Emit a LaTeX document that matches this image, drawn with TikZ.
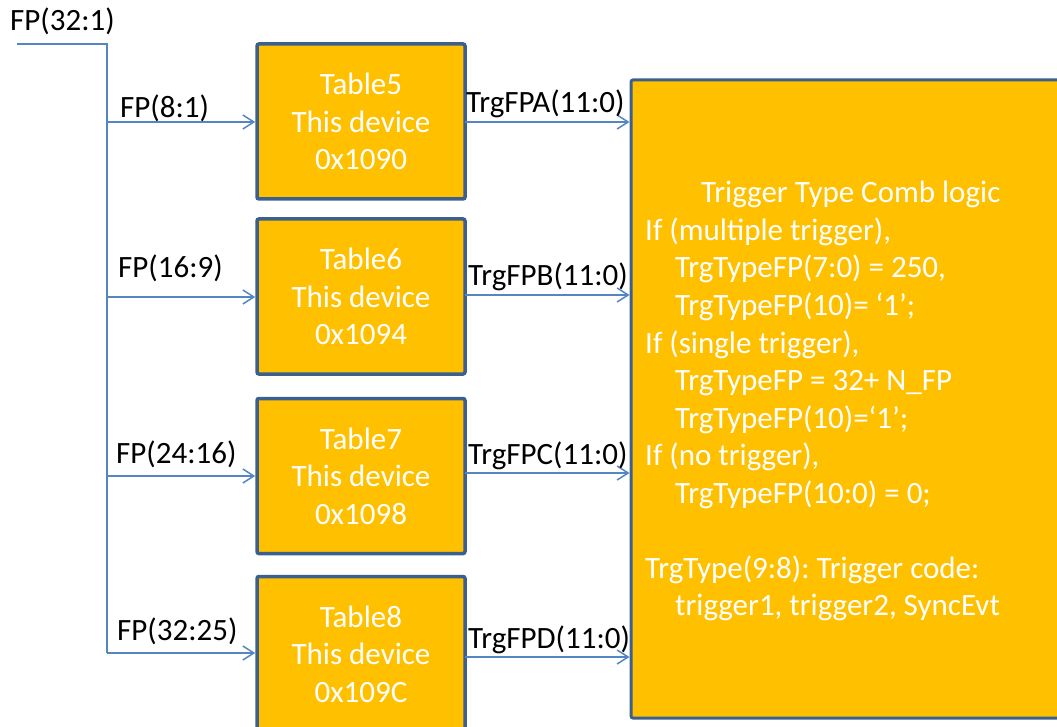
\documentclass[tikz,border=0pt]{standalone}
\usepackage{fontspec}
\setmainfont{Carlito}
\frenchspacing
\usetikzlibrary{arrows.meta}
\definecolor{boxfill}{RGB}{255,192,0}
\definecolor{boxline}{RGB}{60,96,142}
\definecolor{wire}{RGB}{84,134,196}
\begin{document}
\begin{tikzpicture}[x=1pt,y=-1pt,
  txt/.style={font=\fontsize{31}{37.5}\selectfont, inner sep=0pt},
  tablebox/.style={draw=boxline, line width=3.5pt, fill=boxfill, rounded corners=2pt,
    minimum width=208pt, minimum height=155pt, inner sep=0pt, align=center,
    text=white, font=\fontsize{31}{37.5}\selectfont},
  logicbox/.style={draw=boxline, line width=3pt, fill=boxfill, rounded corners=2pt,
    minimum width=440pt, minimum height=638pt, inner sep=0pt},
  wirel/.style={draw=wire, line width=1.5pt},
  arr/.style={wirel, -{Straight Barb[length=11pt, width=14pt, line width=1.5pt]}},
  lbl/.style={txt, anchor=base west, text=black},
  ltxt/.style={txt, anchor=base west, text=white}]
\useasboundingbox (0,0) rectangle (1057,727);

% boxes
\node[tablebox] (t5) at (361,121.5) {Table5\\This device\\0x1090};
\node[tablebox] (t6) at (361,296.5) {Table6\\This device\\0x1094};
\node[tablebox] (t7) at (361,476)   {Table7\\This device\\0x1098};
\node[tablebox] (t8) at (361,654)   {Table8\\This device\\0x109C};
\node[logicbox] (logic) at (851,399) {};

% input bus
\coordinate (src) at (17,44);
\coordinate (bus) at (107,44);
\coordinate (j1) at (107,122);
\coordinate (j2) at (107,297);
\coordinate (j3) at (107,476);
\coordinate (j4) at (107,653);
\draw[wirel] (src) -- (bus) -- (j4);
\draw[arr] (j1) -- (j1 -| t5.west);
\draw[arr] (j2) -- (j2 -| t6.west);
\draw[arr] (j3) -- (j3 -| t7.west);
\draw[arr] (j4) -- (j4 -| t8.west);

% outputs
\coordinate (o1) at (465,122);
\coordinate (o2) at (465,295);
\coordinate (o3) at (465,473);
\coordinate (o4) at (465,657);
\draw[arr] (o1) -- (o1 -| logic.west);
\draw[arr] (o2) -- (o2 -| logic.west);
\draw[arr] (o3) -- (o3 -| logic.west);
\draw[arr] (o4) -- (o4 -| logic.west);

% labels
\node[lbl] (fpall) at (10,31) {FP(32:1)};
\node[lbl] (fp1) at (120,118) {FP(8:1)};
\node[lbl] (fp2) at (118,277) {FP(16:9)};
\node[lbl] (fp3) at (116,463) {FP(24:16)};
\node[lbl] (fp4) at (117,640) {FP(32:25)};
\node[lbl] (ta) at (466,113) {TrgFPA(11:0)};
\node[lbl] (tb) at (468,286) {TrgFPB(11:0)};
\node[lbl] (tc) at (468,464) {TrgFPC(11:0)};
\node[lbl] (td) at (468,648) {TrgFPD(11:0)};

% logic text
\node[ltxt] (l1)  at (701,203)   {Trigger Type Comb logic};
\node[ltxt] (l2)  at (645,240.5) {If (multiple trigger),};
\node[ltxt] (l3)  at (675,278)   {TrgTypeFP(7:0) = 250,};
\node[ltxt] (l4)  at (675,315.5) {TrgTypeFP(10)= ‘1’;};
\node[ltxt] (l5)  at (645,353)   {If (single trigger),};
\node[ltxt] (l6)  at (675,390.5) {TrgTypeFP = 32+ N\_FP};
\node[ltxt] (l7)  at (675,428)   {TrgTypeFP(10)=‘1’;};
\node[ltxt] (l8)  at (645,465.5) {If (no trigger),};
\node[ltxt] (l9)  at (675,503)   {TrgTypeFP(10:0) = 0;};
\node[ltxt] (l11) at (645,578)   {TrgType(9:8): Trigger code:};
\node[ltxt] (l12) at (675,615.5) {trigger1, trigger2, SyncEvt};
\end{tikzpicture}
\end{document}
